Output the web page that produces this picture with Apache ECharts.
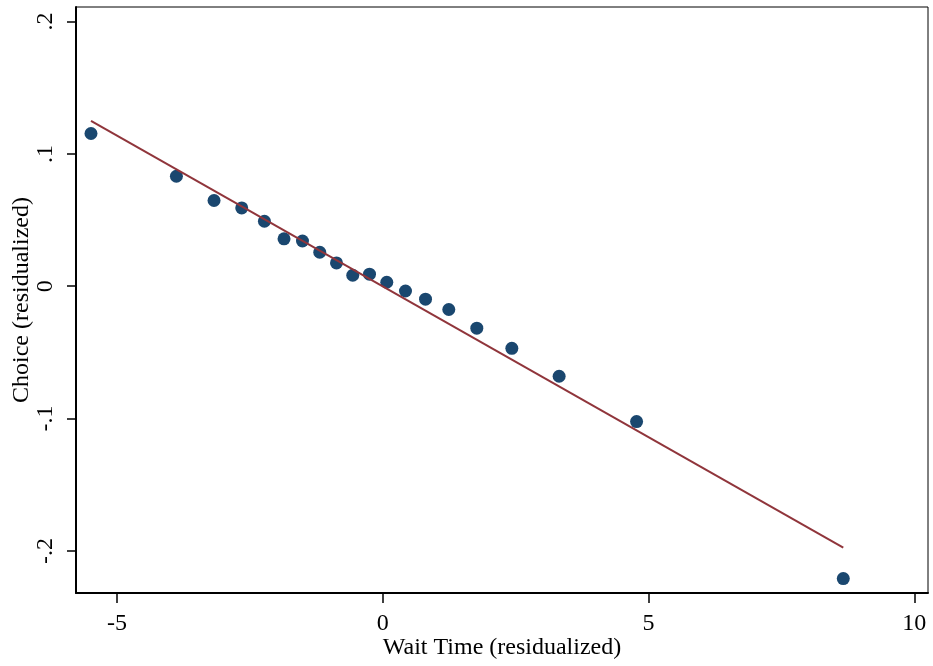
<!DOCTYPE html>
<html>
<head>
<meta charset="utf-8">
<script src="https://cdn.jsdelivr.net/npm/echarts@6/dist/echarts.min.js"></script>
<style>
html,body{margin:0;padding:0;background:#fff;}
#chart{width:933px;height:666px;}
</style>
</head>
<body>
<div id="chart"></div>
<script>
// Binned scatter data
const waitTime = [-5.490, -3.883, -3.175, -2.654, -2.227, -1.858, -1.511, -1.186, -0.871, -0.565,
                  -0.250, 0.075, 0.427, 0.804, 1.242, 1.769, 2.428, 3.318, 4.775, 8.664];
const choice = [0.1154, 0.0831, 0.0648, 0.0592, 0.0491, 0.0358, 0.0342, 0.0257, 0.0176, 0.0083,
                0.0091, 0.0030, -0.0036, -0.0098, -0.0176, -0.0317, -0.0469, -0.0680, -0.1023, -0.2209];
// Fitted line endpoints
const fitX = [-5.490, 8.664];
const fitY = [0.1249, -0.1975];
// Tick values
const xTicks = [-5, 0, 5, 10];
const yTicks = [-0.2, -0.1, 0, 0.1, 0.2];

const font = '"Liberation Serif", "Times New Roman", serif';

function yFmt(v) {
  const r = Math.round(v * 10) / 10;
  if (r === 0) return '0';
  const s = String(Math.abs(r)).replace(/^0/, '');
  return (r < 0 ? '-' : '') + s;
}

const chart = echarts.init(document.getElementById('chart'), null, {renderer: 'canvas'});
chart.setOption({
  animation: false,
  backgroundColor: '#fff',
  grid: {left: 76, right: 5, top: 7, bottom: 73, containLabel: false, outerBoundsMode: 'none',
         show: true, borderColor: '#000', borderWidth: 1, backgroundColor: '#fff'},
  xAxis: {
    type: 'value', min: -5.772, max: 10.258,
    name: 'Wait Time (residualized)', nameLocation: 'middle', nameGap: 43, nameMoveOverlap: false,
    nameTextStyle: {fontFamily: font, fontSize: 24, color: '#000'},
    splitLine: {show: false},
    axisLine: {onZero: false, lineStyle: {color: '#000', width: 2}},
    axisTick: {customValues: xTicks, length: 10, lineStyle: {color: '#000', width: 1.5}},
    axisLabel: {customValues: xTicks, fontFamily: font, fontSize: 24, color: '#000', margin: 19, formatter: v => String(v)}
  },
  yAxis: {
    type: 'value', min: -0.2318, max: 0.211,
    name: 'Choice (residualized)', nameLocation: 'middle', nameGap: 42, nameRotate: 90, nameMoveOverlap: false,
    nameTextStyle: {fontFamily: font, fontSize: 24, color: '#000'},
    splitLine: {show: false},
    axisLine: {onZero: false, lineStyle: {color: '#000', width: 2}},
    axisTick: {customValues: yTicks, length: 9, lineStyle: {color: '#000', width: 1.5}},
    axisLabel: {customValues: yTicks, rotate: 90, fontFamily: font, fontSize: 24, color: '#000', margin: 18, formatter: yFmt}
  },
  series: [
    {
      type: 'scatter',
      data: waitTime.map((x, i) => [x, choice[i]]),
      symbol: 'circle', symbolSize: 13,
      itemStyle: {color: '#1a476f', opacity: 1},
      z: 3
    },
    {
      type: 'line',
      data: fitX.map((x, i) => [x, fitY[i]]),
      showSymbol: false, symbol: 'none',
      lineStyle: {color: '#90353b', width: 2},
      z: 4
    }
  ]
});
</script>
</body>
</html>
